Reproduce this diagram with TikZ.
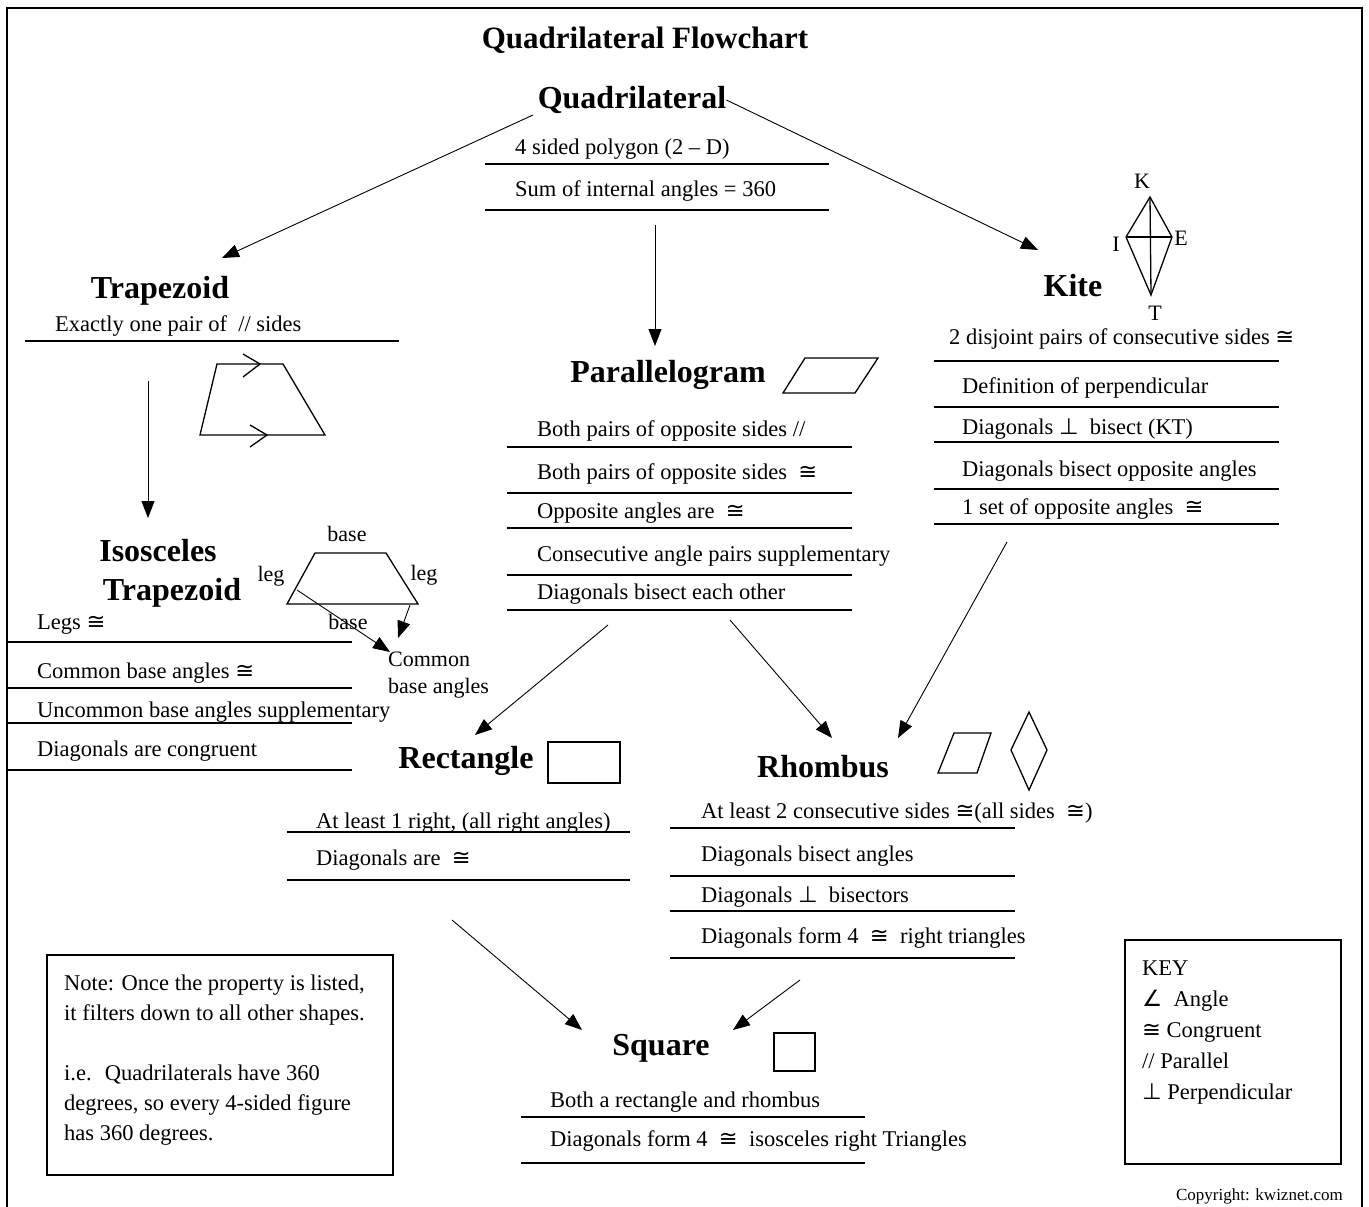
\documentclass[tikz,border=0pt]{standalone}
\usepackage{fontspec}
\setmainfont{Liberation Serif}
\newfontfamily\symf{DejaVu Sans}
\newcommand{\cng}{{\symf ≅}}
\newcommand{\prp}{{\symf ⊥}}
\newcommand{\ang}{{\symf ∠}}
\usetikzlibrary{arrows.meta}
\tikzset{
  hd/.style={font=\bfseries\fontsize{32}{36}\selectfont,inner sep=0pt,yshift=-3pt},
  prop/.style={anchor=west,inner sep=0pt,font=\fontsize{22.5}{26}\selectfont,text height=.7em,text depth=.2em,yshift=-4pt},
  lbl/.style={inner sep=0pt,font=\fontsize{22}{26}\selectfont},
  rul/.style={line width=1.6pt},
  arr/.style={-{Triangle[length=17pt,width=13pt]},line width=.9pt},
  fig/.style={line width=1.3pt},
  boxed/.style={line width=1.6pt},
}

\begin{document}
\begin{tikzpicture}[x=1pt,y=-1pt]
  \useasboundingbox (0,0) rectangle (1369,1207);
  \draw[line width=2pt] (7,8) rectangle (1362,1220);
  \node[hd,font=\bfseries\fontsize{31}{36}\selectfont] (title) at (645,37) {Quadrilateral Flowchart};

  % quadrilateral
  \node[hd] (quad) at (632,97) {Quadrilateral};
  \node[prop] (q1) at (515,148) {4 sided polygon (2 \textendash\ D)};
  \node[prop] (q2) at (515,190) {Sum of internal angles = 360};
  \draw[rul] (485,164) -- (829,164);
  \draw[rul] (485,210) -- (829,210);
  \coordinate (qtr) at (533,115);
  \coordinate (qpa) at (655,225);

  % trapezoid
  \node[hd] (trap) at (160,288) {Trapezoid};
  \node[prop] (t1) at (55,325) {Exactly one pair of ~// sides};
  \draw[rul] (25,341) -- (399,341);
  \draw[fig] (217,364) -- (283,364) -- (325,435) -- (200,435) -- cycle;
  \draw[fig] (243,354) -- (260,364) -- (243,377);
  \draw[fig] (250,425) -- (267,435) -- (250,447);
  \coordinate (tis) at (148,381);

  % isosceles trapezoid
  \node[hd] (isos) at (158,548) {Isosceles};
  \node[hd] (isot) at (172,590) {Trapezoid};
  \draw[fig] (315,553) -- (386,553) -- (418,604) -- (287,604) -- cycle;
  \coordinate (leg) at (297,590);
  \coordinate (bcr) at (410,605);
  \node[lbl] (bt) at (347,534) {base};
  \node[lbl] (ll) at (271,576) {leg};
  \node[lbl] (lr) at (424,575) {leg};
  \node[lbl] (bb) at (348,622) {base};
  \node[lbl,anchor=west] (cmn) at (388,659) {Common};
  \node[lbl,anchor=west] (cba) at (388,688) {base angles};
  \coordinate (cmn1) at (390,652);
  \coordinate (cmn2) at (398,638);
  \foreach \ty/\ry/\tx [count=\i] in {623/642/{Legs \cng},672/688/{Common base angles \cng},711/723/{Uncommon base angles supplementary},750/770/{Diagonals are congruent}}{
    \node[prop] (is\i) at (37,\ty) {\tx};
    \draw[rul] (8,\ry) -- (352,\ry);
  }

  % parallelogram
  \node[hd] (para) at (668,372) {Parallelogram};
  \draw[fig] (783,393) -- (855,393) -- (878,358) -- (805,358) -- cycle;
  \foreach \ty/\ry/\tx [count=\i] in {430/447/{Both pairs of opposite sides //},473/493/{Both pairs of opposite sides~ \cng},512/528/{Opposite angles are~ \cng},555/575/{Consecutive angle pairs supplementary},593/610/{Diagonals bisect each other}}{
    \node[prop] (pg\i) at (537,\ty) {\tx};
    \draw[rul] (507,\ry) -- (852,\ry);
  }
  \coordinate (pre) at (608,625);
  \coordinate (prh) at (730,620);

  % kite
  \node[hd] (kite) at (1073,283) {Kite};
  \coordinate (K) at (1150,197);
  \coordinate (E) at (1172,237);
  \coordinate (T) at (1151,295);
  \coordinate (I) at (1126,237);
  \draw[fig] (K) -- (E) -- (T) -- (I) -- cycle;
  \draw[fig] (K) -- (T);
  \draw[fig] (I) -- (E);
  \node[lbl] (kK) at (1142,181) {K};
  \node[lbl] (kI) at (1116,244) {I};
  \node[lbl] (kE) at (1181,238) {E};
  \node[lbl] (kT) at (1155,313) {T};
  \node[prop] (k0) at (949,338) {2 disjoint pairs of consecutive sides \cng};
  \foreach \ty/\tx [count=\i] in {387/{Definition of perpendicular},428/{Diagonals \prp~ bisect (KT)},470/{Diagonals bisect opposite angles},508/{1 set of opposite angles~ \cng}}{
    \node[prop] (kt\i) at (962,\ty) {\tx};
  }
  \foreach \ry in {361,407,442,489,524}
    \draw[rul] (934,\ry) -- (1279,\ry);
  \coordinate (krh) at (1007,542);

  % rectangle
  \node[hd] (rect) at (466,758) {Rectangle};
  \draw[fig] (548,742) rectangle (620,783);
  \node[prop] (re1) at (316,822) {At least 1 right, (all right angles)};
  \node[prop] (re2) at (316,859) {Diagonals are~ \cng};
  \draw[rul] (287,832) -- (630,832);
  \draw[rul] (287,880) -- (630,880);
  \coordinate (rtip) at (475,735);
  \coordinate (rsq) at (452,920);

  % rhombus
  \node[hd] (rhom) at (823,764) {Rhombus};
  \draw[fig] (954,733) -- (991,733) -- (977,773) -- (938,773) -- cycle;
  \draw[fig] (1029,712) -- (1047,750) -- (1029,790) -- (1011,750) -- cycle;
  \foreach \ty/\ry/\tx [count=\i] in {812/828/{At least 2 consecutive sides \cng(all sides~ \cng)},855/876/{Diagonals bisect angles},896/911/{Diagonals \prp~ bisectors},937/958/{Diagonals form 4~ \cng~ right triangles}}{
    \node[prop] (rh\i) at (701,\ty) {\tx};
    \draw[rul] (670,\ry) -- (1015,\ry);
  }
  \coordinate (hptip) at (832,738);
  \coordinate (hktip) at (898,738);
  \coordinate (hsq) at (800,980);

  % square
  \node[hd] (sq) at (661,1045) {Square};
  \draw[fig] (774,1033) rectangle (815,1071);
  \node[prop] (sq1) at (550,1101) {Both a rectangle and rhombus};
  \node[prop] (sq2) at (550,1140) {Diagonals form 4~ \cng~ isosceles right Triangles};
  \draw[rul] (521,1117) -- (865,1117);
  \draw[rul] (521,1163) -- (865,1163);
  \coordinate (stl) at (582,1030);
  \coordinate (str) at (733,1030);

  % note and key
  \draw[boxed] (47,955) rectangle (393,1175);
  \node[anchor=north west,inner sep=0pt,align=left,font=\fontsize{22.5}{30}\selectfont] (note) at (64,975)
    {Note: Once the property is listed,\\it filters down to all other shapes.\\[30pt]i.e.~ Quadrilaterals have 360\\degrees, so every 4-sided figure\\has 360 degrees.};
  \draw[boxed] (1125,940) rectangle (1341,1164);
  \node[anchor=north west,inner sep=0pt,align=left,font=\fontsize{22.5}{31}\selectfont] (key) at (1142,961)
    {KEY\\\ang~ Angle\\\cng{} Congruent\\// Parallel\\\prp{} Perpendicular};
  \node[anchor=east,inner sep=0pt,font=\fontsize{17}{20}\selectfont] (copy) at (1343,1196) {Copyright: kwiznet.com};

  % arrows
  \draw[arr] (qtr) -- (222,258);
  \draw[arr] (quad.east) -- (1038,250);
  \draw[arr] (qpa) -- (655,346);
  \draw[arr] (tis) -- (148,518);
  \draw[arr] (leg) -- (cmn1);
  \draw[arr] (bcr) -- (cmn2);
  \draw[arr] (pre) -- (rtip);
  \draw[arr] (prh) -- (hptip);
  \draw[arr] (krh) -- (hktip);
  \draw[arr] (rsq) -- (stl);
  \draw[arr] (hsq) -- (str);
\end{tikzpicture}
\end{document}
